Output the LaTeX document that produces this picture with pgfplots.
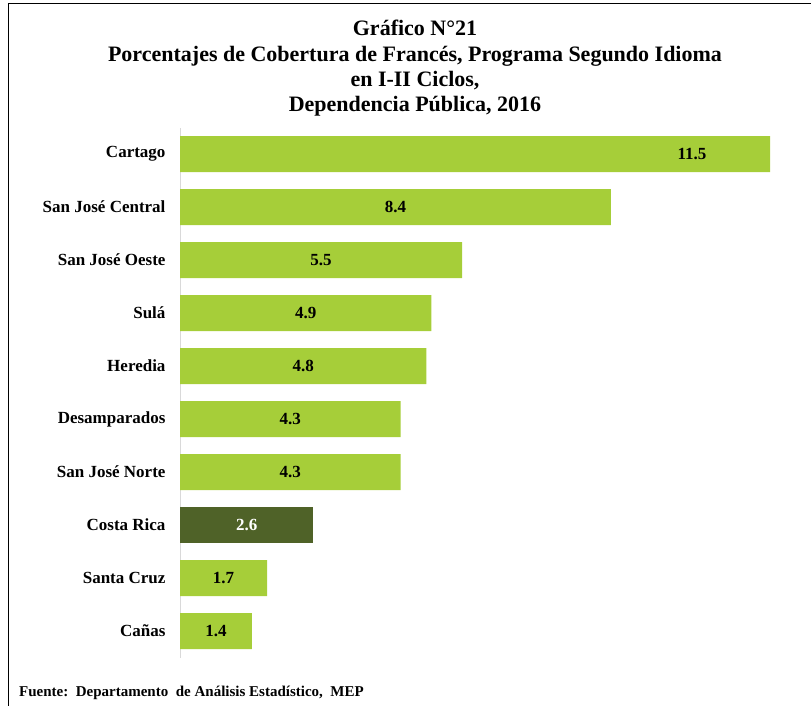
\documentclass[border=0pt]{standalone}
\usepackage{pgfplots}
\pgfplotsset{compat=1.18}
\usepackage{fontspec}
\setmainfont{Liberation Serif}
\definecolor{barg}{RGB}{166,206,57}
\definecolor{bard}{RGB}{79,98,40}
\begin{document}
\begin{tikzpicture}
\useasboundingbox (0,0) rectangle (811pt,-706pt);
\draw[line width=1.5pt] (8.5pt,-706pt) -- (8.5pt,-3.5pt) -- (811pt,-3.5pt);
\tikzset{ttl/.style={font=\bfseries\fontsize{22}{25}\selectfont, anchor=base, inner sep=0pt}}
\node[ttl] at (415pt,-36pt) {Gráfico N°21};
\node[ttl] at (415pt,-62pt) {Porcentajes de Cobertura de Francés, Programa Segundo Idioma};
\node[ttl] at (415pt,-87pt) {en I-II Ciclos,};
\node[ttl] at (415pt,-112pt) {Dependencia Pública, 2016};
\node[font=\bfseries\fontsize{15}{17}\selectfont, anchor=base west, inner sep=0pt] at (19pt,-696pt) {Fuente:\ \ Departamento\ \ de Análisis Estadístico,\ \ MEP};
\begin{axis}[
  at={(180pt,-657.5pt)}, anchor=south west,
  scale only axis, width=590pt, height=530pt,
  xmin=0, xmax=11.5, ymin=-0.5, ymax=9.5,
  hide x axis,
  axis y line*=left,
  y axis line style={draw=gray!30, line width=1pt, -},
  ytick={0,...,9},
  yticklabels={Cañas, Santa Cruz, Costa Rica, San José Norte, Desamparados, Heredia, Sulá, San José Oeste, San José Central, Cartago},
  ytick style={draw=none},
  yticklabel style={font=\bfseries\fontsize{17}{19}\selectfont, xshift=-11pt},
  clip=false,
]
\addplot[xbar, bar width=36pt, bar shift=0pt, fill=barg, draw=none] coordinates {
 (11.5,9) (8.4,8) (5.5,7) (4.9,6) (4.8,5) (4.3,4) (4.3,3) (1.7,1) (1.4,0)};
\addplot[xbar, bar width=36pt, bar shift=0pt, fill=bard, draw=none] coordinates {(2.6,2)};
\addplot[draw=none, mark=none, nodes near coords, point meta=explicit symbolic,
  nodes near coords style={anchor=center, font=\bfseries\fontsize{17}{19}\selectfont, text=black}]
 coordinates {(9.98,9)[11.5] (4.2,8)[8.4] (2.75,7)[5.5] (2.45,6)[4.9] (2.4,5)[4.8] (2.15,4)[4.3] (2.15,3)[4.3] (0.85,1)[1.7] (0.7,0)[1.4]};
\addplot[draw=none, mark=none, nodes near coords, point meta=explicit symbolic,
  nodes near coords style={anchor=center, font=\bfseries\fontsize{17}{19}\selectfont, text=white}]
 coordinates {(1.3,2)[2.6]};
\end{axis}
\end{tikzpicture}
\end{document}
